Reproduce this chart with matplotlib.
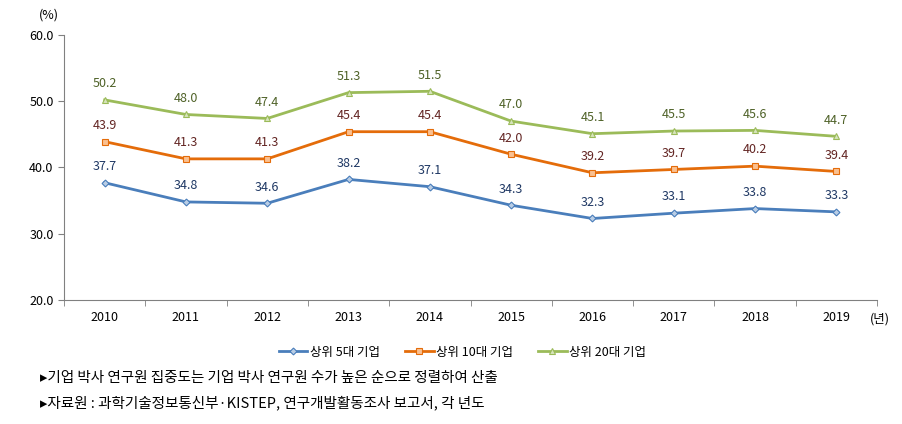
import matplotlib
matplotlib.use("Agg")
import matplotlib.pyplot as plt
import numpy as np

plt.rcParams["font.family"] = ["Noto Sans CJK KR", "DejaVu Sans"]

years = ["2010", "2011", "2012", "2013", "2014", "2015", "2016", "2017", "2018", "2019"]
top5 = [37.7, 34.8, 34.6, 38.2, 37.1, 34.3, 32.3, 33.1, 33.8, 33.3]
top10 = [43.9, 41.3, 41.3, 45.4, 45.4, 42.0, 39.2, 39.7, 40.2, 39.4]
top20 = [50.2, 48.0, 47.4, 51.3, 51.5, 47.0, 45.1, 45.5, 45.6, 44.7]
series_names = ["상위 5대 기업", "상위 10대 기업", "상위 20대 기업"]
notes = [
    "▸기업 박사 연구원 집중도는 기업 박사 연구원 수가 높은 순으로 정렬하여 산출",
    "▸자료원 : 과학기술정보통신부·KISTEP, 연구개발활동조사 보고서, 각 년도",
]

fig = plt.figure(figsize=(9.03, 4.24), dpi=100)
ax = fig.add_axes([0.0709, 0.2925, 0.9003, 0.625])

x = np.arange(len(years))
styles = [
    (top5, "#4A7EBB", "D", "#B9CDE5", "#1F3864", 3.5),
    (top10, "#E46C0A", "s", "#FAC090", "#632523", 5),
    (top20, "#9BBB59", "^", "#D7E4BD", "#4F6228", 5),
]
for (vals, col, mk, fc, lc, ms), name in zip(styles, series_names):
    ax.plot(x, vals, color=col, lw=2, marker=mk, ms=ms, mfc=fc, mec=col,
            mew=0.8, label=name)
    for xi, v in zip(x, vals):
        ax.annotate(f"{v:.1f}", (xi, v), xytext=(0, 7), textcoords="offset points",
                    ha="center", va="bottom", fontsize=9, color=lc)

ax.set_xlim(-0.5, len(years) - 0.5)
ax.set_ylim(20, 60)
ax.set_yticks([20, 30, 40, 50, 60])
ax.set_yticklabels([f"{v:.1f}" for v in [20, 30, 40, 50, 60]], fontsize=9)
ax.set_xticks(x)
ax.set_xticklabels(years, fontsize=9)
ax.set_xticks(np.arange(-0.5, len(years)), minor=True)
ax.tick_params(axis="x", which="major", length=0, pad=8)
ax.tick_params(axis="x", which="minor", length=4, color="#808080")
ax.tick_params(axis="y", length=4, color="#808080")
for s in ["top", "right"]:
    ax.spines[s].set_visible(False)
for s in ["left", "bottom"]:
    ax.spines[s].set_color("#808080")

fig.text(0.043, 0.965, "(%)", fontsize=9, ha="left", va="center")
fig.text(0.985, 0.247, "(년)", fontsize=9, ha="right", va="center")

ax.legend(loc="upper center", bbox_to_anchor=(0.49, -0.13), ncol=3, frameon=False,
          fontsize=9, handlelength=2.3, columnspacing=2.0, handletextpad=0.2)

fig.text(0.044, 0.108, notes[0], fontsize=10.5, va="center")
fig.text(0.044, 0.05, notes[1], fontsize=10.5, va="center")

fig.savefig("out.png", dpi=100)
